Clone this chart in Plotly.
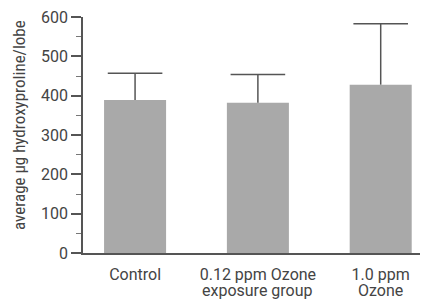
import plotly.graph_objects as go

labels_line1 = ["Control", "0.12 ppm Ozone", "1.0 ppm"]
labels_line2 = ["", "exposure group", "Ozone"]
means = [389, 382, 428]
upper_err = [68, 72, 155]
y_ticks = [0, 100, 200, 300, 400, 500, 600]
y_title = "average μg hydroxyproline/lobe"

font_lbl = "Roboto"
font_title = "Roboto Condensed"
txt_col = "#444444"
pos = list(range(len(labels_line1)))
tops = [m + e for m, e in zip(means, upper_err)]

stem_x, stem_y = [], []
for p, m, t in zip(pos, means, tops):
    stem_x += [p, p, None]
    stem_y += [m, t, None]

fig = go.Figure()
fig.add_trace(go.Bar(
    x=pos, y=means, width=0.505,
    marker=dict(color="#a9a9a9", line=dict(width=0)),
))
fig.add_trace(go.Scatter(x=stem_x, y=stem_y, mode="lines",
                         line=dict(color="#555555", width=1.5), hoverinfo="skip"))
fig.add_trace(go.Scatter(x=pos, y=tops, mode="markers",
                         marker=dict(symbol="line-ew", size=39,
                                     line=dict(color="#555555", width=1.5)),
                         hoverinfo="skip"))
for p, t in zip(pos, labels_line2):
    if t:
        fig.add_annotation(x=p, xref="x", y=0, yref="paper", yanchor="middle",
                           yshift=-37, text=t, showarrow=False, borderpad=0,
                           font=dict(size=16, family=font_lbl, color=txt_col))
fig.add_annotation(x=0, xref="paper", xanchor="center", xshift=-64,
                   y=0.5, yref="paper", yanchor="middle", yshift=10,
                   text=y_title, textangle=-90, showarrow=False, borderpad=0,
                   font=dict(size=17, family=font_title, color=txt_col))
fig.update_layout(
    width=423, height=300,
    margin=dict(l=83, r=3, t=17, b=47),
    plot_bgcolor="white", paper_bgcolor="white",
    showlegend=False,
    font=dict(family=font_lbl, size=16, color=txt_col),
    xaxis=dict(range=[-0.424, 2.32], tickmode="array", tickvals=pos,
               ticktext=labels_line1, showline=True, linecolor="#555555", linewidth=1.5,
               ticks="", showgrid=False, zeroline=False, fixedrange=True,
               ticklabelstandoff=6,
               tickfont=dict(size=16, family=font_lbl, color=txt_col)),
    yaxis=dict(range=[0, 600], tickvals=y_ticks, showline=True, linecolor="#555555",
               linewidth=1.5, ticks="outside", ticklen=10, tickwidth=1.5, tickcolor="#555555",
               showgrid=False, zeroline=False, ticklabeloverflow="allow", fixedrange=True,
               minor=dict(dtick=50, ticks="outside", ticklen=5, tickwidth=1, tickcolor="#777777"),
               tickfont=dict(size=16, family=font_lbl, color=txt_col)),
)
fig.write_html("out.html", config={"displayModeBar": False},
               post_script="document.body.style.margin='0';document.body.style.overflow='hidden';")
